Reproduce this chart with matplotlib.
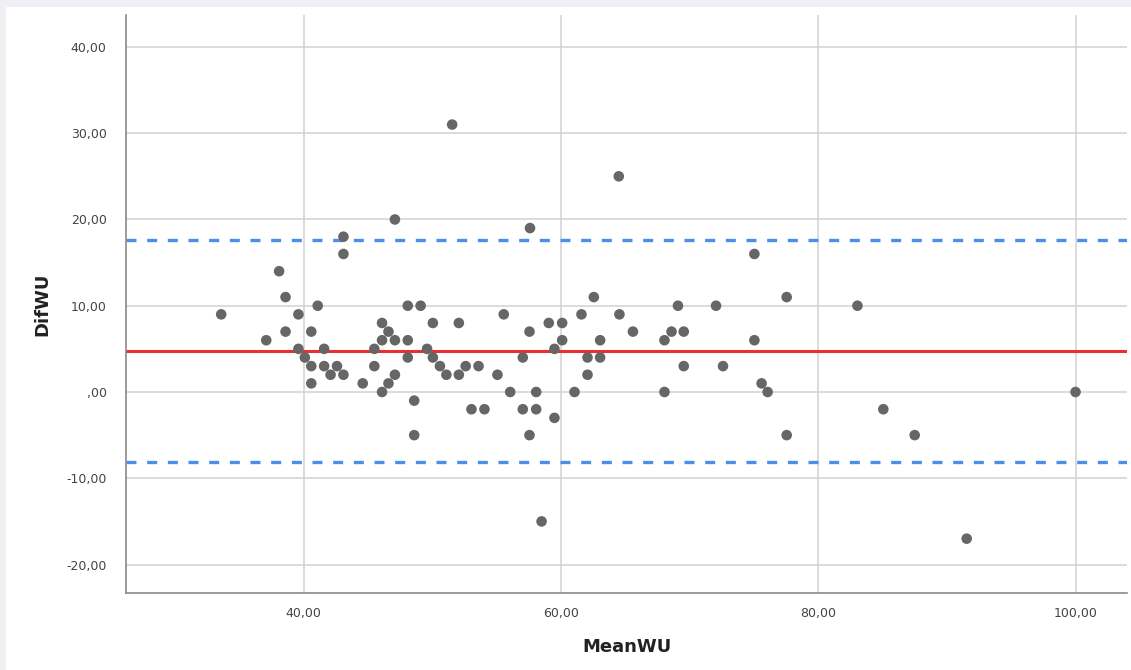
import numpy as np
import matplotlib
matplotlib.use("Agg")
import matplotlib.pyplot as plt
from matplotlib.ticker import FuncFormatter, MultipleLocator
import matplotlib.patches as pat

# Bland-Altman style data
mean_wu = [33.6, 37.1, 38.1, 38.6, 38.6, 39.6, 39.6, 40.1, 40.6, 40.6,
           40.6, 41.1, 41.6, 41.6, 42.1, 42.6, 43.1, 43.1, 43.1, 44.6,
           45.5, 45.5, 46.1, 46.1, 46.1, 46.6, 46.6, 47.1, 47.1, 47.1,
           48.1, 48.1, 48.1, 48.6, 48.6, 49.1, 49.6, 50.05, 50.05, 50.6,
           51.1, 51.55, 52.07, 52.07, 52.6, 53.05, 53.6, 54.06, 55.07, 55.56,
           56.06, 57.04, 57.04, 57.56, 57.56, 57.6, 58.08, 58.08, 58.5, 59.06,
           59.5, 59.5, 60.1, 60.1, 61.06, 61.6, 62.07, 62.07, 62.56, 63.05,
           63.05, 64.5, 64.55, 65.6, 68.05, 68.05, 68.6, 69.1, 69.55, 69.55,
           72.06, 72.6, 75.04, 75.04, 75.6, 76.07, 77.55, 77.55, 83.05, 85.06,
           87.5, 91.54, 100.0]
dif_wu = [9, 6, 14, 11, 7, 9, 5, 4, 7, 3,
          1, 10, 5, 3, 2, 3, 2, 18, 16, 1,
          5, 3, 8, 6, 0, 7, 1, 6, 2, 20,
          10, 6, 4, -1, -5, 10, 5, 8, 4, 3,
          2, 31, 8, 2, 3, -2, 3, -2, 2, 9,
          0, 4, -2, 7, -5, 19, 0, -2, -15, 8,
          5, -3, 8, 6, 0, 9, 4, 2, 11, 6,
          4, 25, 9, 7, 6, 0, 7, 10, 7, 3,
          10, 3, 16, 6, 1, 0, 11, -5, 10, -2,
          -5, -17, 0]

mean_diff = 4.76
upper_loa = 17.63
lower_loa = -8.12

fig = plt.figure(figsize=(11.31, 6.70), dpi=100)
fig.patch.set_facecolor("#eef0f3")
# white panel inside the grey frame
bg = fig.add_axes([6/1131, 0, 1 - 6/1131, 1 - 7/670], zorder=-5)
bg.set_axis_off()
bg.add_patch(pat.Rectangle((0, 0), 1, 1, transform=bg.transAxes, facecolor="white", edgecolor="none"))

ax = fig.add_axes([126/1131, 1 - 593/670, (1127 - 126)/1131, (593 - 15)/670])
ax.set_facecolor("white")

ax.set_xlim(26.2, 104.0)
ax.set_ylim(-23.3, 43.7)
ax.xaxis.set_major_locator(MultipleLocator(20))
ax.yaxis.set_major_locator(MultipleLocator(10))

def spss_fmt(v, pos):
    s = f"{v:.2f}".replace(".", ",")
    if s.startswith("0,"):
        s = s[1:]
    if s == "-0,00":
        s = ",00"
    return s

ax.xaxis.set_major_formatter(FuncFormatter(spss_fmt))
ax.yaxis.set_major_formatter(FuncFormatter(spss_fmt))

ax.grid(True, color="#d2d2d2", linewidth=1.1)
ax.set_axisbelow(True)
for side in ["top", "right"]:
    ax.spines[side].set_visible(False)
for side in ["left", "bottom"]:
    ax.spines[side].set_color("#8a8a8a")
    ax.spines[side].set_linewidth(1.2)
ax.tick_params(length=0, labelsize=9, labelcolor="#444444", pad=14)
ax.tick_params(axis="x", pad=10)

ax.axhline(mean_diff, color="#e8302f", linewidth=2.2, zorder=2)
ax.axhline(upper_loa, color="#4a90e8", linewidth=2.4, linestyle=(0, (3, 3.2)), zorder=2)
ax.axhline(lower_loa, color="#4a90e8", linewidth=2.4, linestyle=(0, (3, 3.2)), zorder=2)

ax.scatter(mean_wu, dif_wu, s=58, color="#666666", edgecolors="none", zorder=3)

ax.set_xlabel("MeanWU", fontsize=13, fontweight="bold", color="#222222", labelpad=13)
ax.set_ylabel("DifWU", fontsize=13, fontweight="bold", color="#222222", labelpad=11)

fig.savefig("out.png", dpi=100, facecolor=fig.get_facecolor())
